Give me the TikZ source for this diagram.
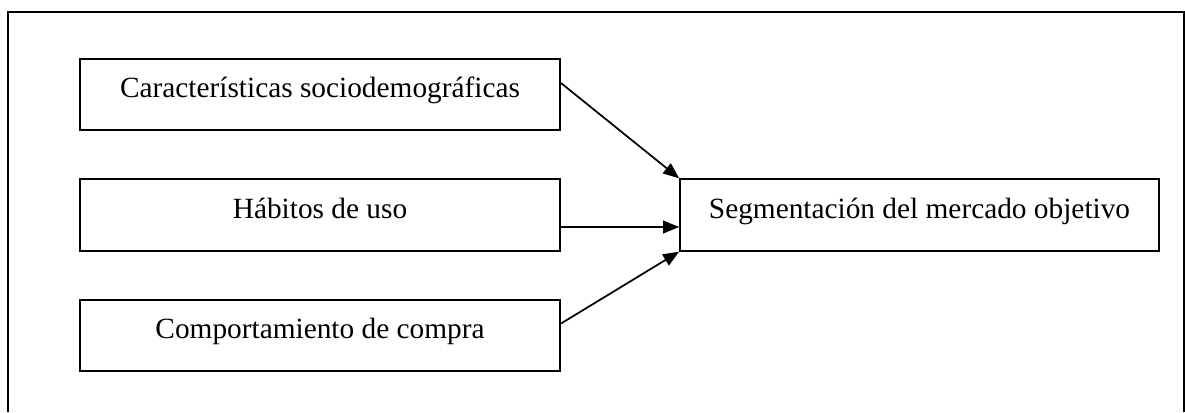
\documentclass[tikz,border=0pt]{standalone}
\usepackage{fontspec}
\setmainfont{Liberation Serif}
\usetikzlibrary{arrows.meta}

\tikzset{
  caja/.style={draw, line width=1.5pt, minimum width=360pt, minimum height=53.5pt,
    text height=16pt, text depth=11.5pt, font=\fontsize{22}{26}\selectfont},
  flecha/.style={-{Triangle[length=12pt,width=9.5pt]}, line width=1.3pt}
}

\begin{document}
\begin{tikzpicture}[x=0.75pt,y=-0.75pt]

\useasboundingbox (0,0) rectangle (1185,412);

% marco exterior (abierto por abajo)
\draw[line width=1.6pt] (8,412) -- (8,12) -- (1184,12) -- (1184,412);

\node[caja] (b1) at (320,94.5) {Características sociodemográficas};
\node[caja] (b2) at (320,215) {Hábitos de uso};
\node[caja] (b3) at (320,335.5) {Comportamiento de compra};
\node[caja, minimum width=359pt] (seg) at (919.5,215) {Segmentación del mercado objetivo};


\path[flecha] ([yshift=8.6pt]b1.east) edge (seg.north west);
\path[flecha] ([yshift=-9pt]b2.east) edge ([yshift=-9pt]seg.west);
\path[flecha] ([yshift=9pt]b3.east) edge (seg.south west);


\end{tikzpicture}
\end{document}
